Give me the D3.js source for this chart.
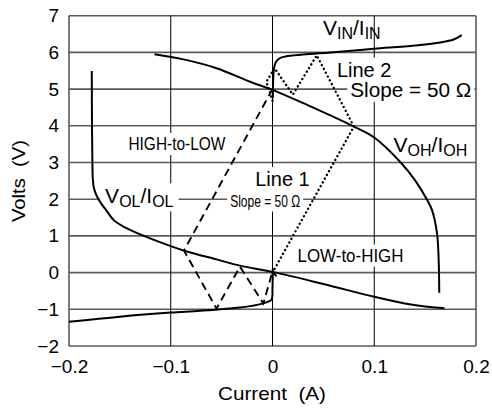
<!DOCTYPE html>
<html>
<head>
<meta charset="utf-8">
<script src="https://cdn.jsdelivr.net/npm/d3@7"></script>
<style>
  body { margin: 0; background: #fff; }
  text { font-family: "Liberation Sans", Arial, sans-serif; fill: #000; }
</style>
</head>
<body>
<script>
// 軸の目盛り
const currentTicks = [-0.2, -0.1, 0, 0.1, 0.2]
const voltTicks = [-2, -1, 0, 1, 2, 3, 4, 5, 6, 7]

// V_IN / I_IN（入力特性）下側と上側の2本に分かれている
const vinLowCurrent = [-0.2, -0.15, -0.1, -0.071, -0.032, -0.015, -0.006, -0.001, 0, 0.0003]
const vinLowVolts = [-1.34, -1.2, -1.09, -1.04, -0.95, -0.88, -0.81, -0.74, -0.4, 0.12]
const vinHighCurrent = [0.0003, 0.0006, 0.0012, 0.003, 0.007, 0.013, 0.03, 0.057, 0.1, 0.14, 0.165, 0.178, 0.186]
const vinHighVolts = [4.75, 5.2, 5.5, 5.72, 5.84, 5.89, 5.94, 6.0, 6.1, 6.19, 6.27, 6.35, 6.47]

// V_OH / I_OH（HIGH出力）
const vohCurrent = [-0.116, -0.0875, -0.055, -0.022, 0, 0.034, 0.08, 0.1, 0.126, 0.14, 0.152, 0.1567, 0.1617, 0.1633, 0.1639]
const vohVolts = [5.95, 5.81, 5.57, 5.2, 4.98, 4.57, 3.98, 3.68, 3.0, 2.52, 1.98, 1.71, 1.07, 0.34, -0.55]

// V_OL / I_OL（LOW出力）
const volCurrent = [-0.1776, -0.1774, -0.177, -0.1767, -0.1755, -0.1722, -0.1673, -0.1645, -0.156, -0.145, -0.13, -0.1, -0.086, -0.055, -0.032, 0, 0.05, 0.1, 0.13, 0.152, 0.169]
const volVolts = [5.49, 4.0, 3.0, 2.6, 2.3, 2.06, 1.84, 1.74, 1.43, 1.23, 1.04, 0.72, 0.59, 0.36, 0.19, 0.02, -0.31, -0.66, -0.84, -0.93, -0.97]

// HIGH-to-LOW（破線）
const hlCurrent = [0, -0.087, -0.055, -0.032, -0.009, 0.0, 0.004]
const hlVolts = [5.0, 0.6, -0.98, 0.16, -0.84, 0.03, -0.1]

// LOW-to-HIGH（点線）
const lhCurrent = [0, 0.08, 0.0435, 0.02, 0.002, -0.006, 0.0005]
const lhVolts = [0, 3.98, 5.92, 4.85, 5.57, 5.2, 4.65]

const W = 492
const H = 409

const svg = d3.select('body').append('svg')
  .attr('width', W)
  .attr('height', H)

const x = d3.scaleLinear().domain([-0.2, 0.2]).range([69, 476])
const y = d3.scaleLinear().domain([-2, 7]).range([346, 15.7])

const gridColor = '#5a5a5a'

// 横のグリッド線
svg.append('g')
  .selectAll('line')
  .data(voltTicks)
  .enter()
  .append('line')
  .attr('x1', x(-0.2))
  .attr('x2', x(0.2))
  .attr('y1', d => y(d))
  .attr('y2', d => y(d))
  .attr('stroke', gridColor)
  .attr('stroke-width', 1.6)

// 縦のグリッド線（内側は細い黒、両端は枠と同じ）
svg.append('g')
  .selectAll('line')
  .data(currentTicks)
  .enter()
  .append('line')
  .attr('x1', d => x(d))
  .attr('x2', d => x(d))
  .attr('y1', y(-2))
  .attr('y2', y(7))
  .attr('stroke', (d, i) => (i === 0 || i === currentTicks.length - 1) ? gridColor : '#000')
  .attr('stroke-width', (d, i) => (i === 0 || i === currentTicks.length - 1) ? 1.6 : 1)

const fmtX = d => d === 0 ? '0' : d3.format('.1f')(d)

const xAxis = svg.append('g')
  .attr('transform', `translate(0, ${y(-2)})`)
  .call(d3.axisBottom(x).tickValues(currentTicks).tickSize(0).tickPadding(14).tickFormat(fmtX))
xAxis.select('.domain').remove()
xAxis.selectAll('text').style('font-size', '19px').attr('font-family', null)

const yAxis = svg.append('g')
  .attr('transform', `translate(${x(-0.2)}, 0)`)
  .call(d3.axisLeft(y).tickValues(voltTicks).tickSize(0).tickPadding(10))
yAxis.select('.domain').remove()
yAxis.selectAll('text').style('font-size', '19px').attr('font-family', null)

svg.append('text')
  .attr('x', 272)
  .attr('y', 400)
  .attr('text-anchor', 'middle')
  .attr('textLength', 108)
  .attr('lengthAdjust', 'spacingAndGlyphs')
  .style('font-size', '19px')
  .style('white-space', 'pre')
  .text('Current  (A)')

svg.append('text')
  .attr('transform', 'translate(25, 181) rotate(-90)')
  .attr('text-anchor', 'middle')
  .attr('textLength', 82)
  .attr('lengthAdjust', 'spacingAndGlyphs')
  .style('font-size', '19px')
  .style('white-space', 'pre')
  .text('Volts  (V)')

// ラベルの白い下地はカーブより下に置く
const boxLayer = svg.append('g')
const curveLayer = svg.append('g')
const labelLayer = svg.append('g')

const line = d3.line()
  .x(d => x(d[0]))
  .y(d => y(d[1]))
  .curve(d3.curveCatmullRom.alpha(0.5))

const pair = (a, b) => a.map((v, i) => [v, b[i]])

const solid = [
  pair(vinLowCurrent, vinLowVolts),
  pair(vinHighCurrent, vinHighVolts),
  pair(vohCurrent, vohVolts),
  pair(volCurrent, volVolts)
]

curveLayer.selectAll('path.solid')
  .data(solid)
  .enter()
  .append('path')
  .attr('class', 'solid')
  .attr('d', line)
  .attr('fill', 'none').attr('stroke', '#000').attr('stroke-width', 2)

const straight = d3.line().x(d => x(d[0])).y(d => y(d[1]))

curveLayer.append('path')
  .datum(pair(hlCurrent, hlVolts))
  .attr('d', straight)
  .attr('fill', 'none').attr('stroke', '#000').attr('stroke-width', 1.9)
  .attr('stroke-dasharray', '8,5')

curveLayer.append('path')
  .datum(pair(lhCurrent, lhVolts))
  .attr('d', straight)
  .attr('fill', 'none').attr('stroke', '#000').attr('stroke-width', 2.4)
  .attr('stroke-linecap', 'round')
  .attr('stroke-dasharray', '0.1,4.2')

// ラベル：parts = [[文字, 下付きか], ...]
function addLabel (parts, cx, cv, opts) {
  const size = opts.size || 20
  const t = labelLayer.append('text')
    .attr('x', x(cx))
    .attr('y', y(cv))
    .style('font-size', size + 'px')
  let down = false
  parts.forEach(p => {
    const sp = t.append('tspan').text(p[0])
    if (p[1]) {
      sp.style('font-size', (opts.sub || 16) + 'px')
      if (!down) { sp.attr('dy', 4); down = true }
    } else if (down) {
      sp.attr('dy', -4); down = false
    }
  })
  if (opts.len) t.attr('textLength', opts.len).attr('lengthAdjust', 'spacingAndGlyphs')
  if (opts.box) {
    const b = t.node().getBBox()
    const pad = opts.pad == null ? 3 : opts.pad
    boxLayer.append('rect')
      .attr('x', b.x - pad)
      .attr('y', b.y - 1)
      .attr('width', b.width + pad * 2)
      .attr('height', b.height + 2)
      .attr('fill', '#fff')
  }
}

addLabel([['V'], ['IN', true], ['/I'], ['IN', true]], 0.0496, 6.47, { size: 21, sub: 16 })
addLabel([['Line 2']], 0.0633, 5.34, { size: 20, box: true })
addLabel([['Slope = 50 Ω']], 0.0764, 4.79, { size: 20, len: 121, box: true })
addLabel([['V'], ['OH', true], ['/I'], ['OH', true]], 0.119, 3.29, { size: 21, sub: 16, box: true })
addLabel([['HIGH-to-LOW']], -0.1416, 3.34, { size: 18, len: 97, box: true })
addLabel([['V'], ['OL', true], ['/I'], ['OL', true]], -0.1645, 1.89, { size: 21, sub: 16, box: true, pad: 5 })
addLabel([['Line 1']], -0.017, 2.36, { size: 20, box: true })
addLabel([['Slope = 50 Ω']], -0.0416, 1.80, { size: 17, len: 70, box: true })
addLabel([['LOW-to-HIGH']], 0.0246, 0.30, { size: 18, len: 106, box: true })
</script>
</body>
</html>
